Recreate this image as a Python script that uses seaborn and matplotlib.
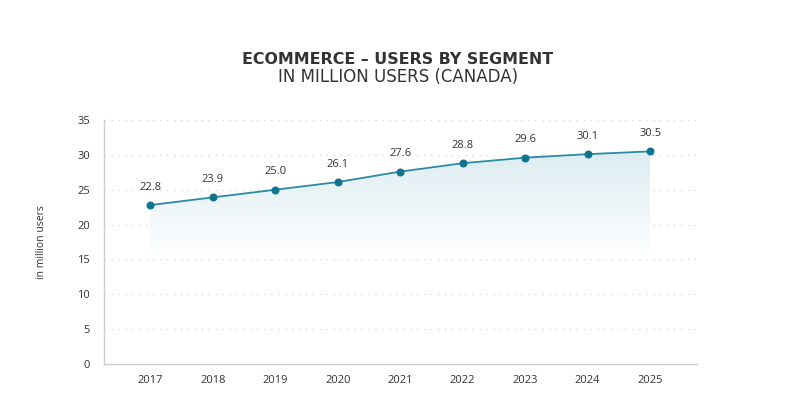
import numpy as np
import pandas as pd
import matplotlib
matplotlib.use('Agg')
import matplotlib.pyplot as plt
import seaborn as sns
from matplotlib.colors import LinearSegmentedColormap

years = [2017, 2018, 2019, 2020, 2021, 2022, 2023, 2024, 2025]
users = [22.8, 23.9, 25.0, 26.1, 27.6, 28.8, 29.6, 30.1, 30.5]
y_ticks = [0, 5, 10, 15, 20, 25, 30, 35]

df = pd.DataFrame({'year': years, 'users': users})

sns.set_style('white')
plt.rcParams['font.family'] = ['Open Sans', 'DejaVu Sans']

line_color = '#2a8ba3'
marker_color = '#0e7490'
text_color = '#333333'

fig = plt.figure(figsize=(7.96, 3.97), dpi=100)
ax = fig.add_axes([0.1307, 0.0831, 0.7449, 0.6146])

# gradient fill under the line
cmap = LinearSegmentedColormap.from_list('fade', ['#ffffff', '#dcecf1'])
grad = np.linspace(0, 1, 256).reshape(-1, 1)
img = ax.imshow(grad, extent=[years[0], years[-1], 15, max(users)], origin='lower',
                aspect='auto', cmap=cmap, zorder=1)
poly = ax.fill_between(years, users, 15, color='none', lw=0)
img.set_clip_path(poly.get_paths()[0], transform=ax.transData)

sns.lineplot(data=df, x='year', y='users', ax=ax, color=line_color, lw=1.3,
             marker='o', markersize=5, markerfacecolor=marker_color,
             markeredgecolor=marker_color, zorder=3)

for x, y in zip(years, users):
    ax.annotate(f'{y:.1f}', (x, y), xytext=(0, 9), textcoords='offset points',
                ha='center', va='bottom', fontsize=8, color=text_color)

ax.set_xlim(2016.26, 2025.75)
ax.set_ylim(0, 35)
ax.set_yticks(y_ticks)
ax.set_xticks(years)
ax.set_xticklabels([str(y) for y in years])
ax.tick_params(axis='both', length=0, labelsize=8, colors=text_color)
ax.tick_params(axis='x', pad=8)
ax.tick_params(axis='y', pad=10)

ax.grid(axis='y', color='#d9d9d9', linestyle=(0, (1, 4)), lw=1)
ax.set_axisbelow(True)
for s in ['top', 'right']:
    ax.spines[s].set_visible(False)
for s in ['left', 'bottom']:
    ax.spines[s].set_color('#cccccc')
    ax.spines[s].set_linewidth(1)

ax.set_xlabel('')
ax.set_ylabel('in million users', fontsize=7.5, color=text_color, labelpad=22)

fig.text(0.5, 0.85, 'ECOMMERCE – USERS BY SEGMENT', ha='center', va='center',
         fontsize=11.4, fontweight='bold', color=text_color, family='DejaVu Sans')
fig.text(0.5, 0.805, 'IN MILLION USERS (CANADA)', ha='center', va='center',
         fontsize=12, color=text_color, family='DejaVu Sans')

fig.savefig('out.png', dpi=100, facecolor='white')
